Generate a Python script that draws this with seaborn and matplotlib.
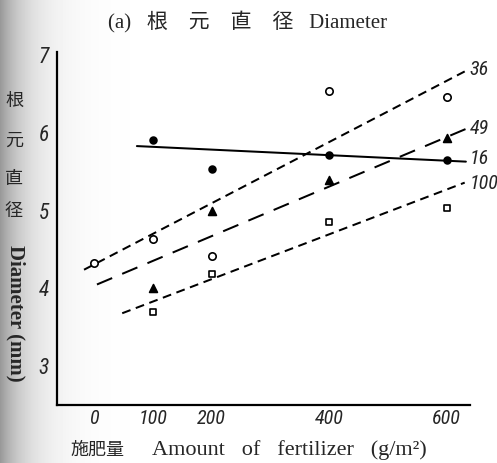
import numpy as np
import pandas as pd
import matplotlib
matplotlib.use('Agg')
import matplotlib.pyplot as plt
import seaborn as sns

# ---- data ----
x_36 = [0, 100, 200, 400, 600]
y_36 = [4.33, 4.64, 4.41, 6.54, 6.46]
x_16 = [100, 200, 400, 600]
y_16 = [5.91, 5.53, 5.72, 5.65]
x_49 = [100, 200, 400, 600]
y_49 = [4.00, 5.00, 5.40, 5.94]
x_100 = [100, 200, 400, 600]
y_100 = [3.69, 4.18, 4.85, 5.04]

# fitted regression lines (start / end)
fit_groups = ['16', '36', '49', '100']
fit_x0 = [73, -17, 5, 48]
fit_x1 = [633, 631, 636, 631]
fit_y0 = [5.83, 4.24, 4.05, 3.68]
fit_y1 = [5.63, 6.79, 6.06, 5.36]
label_y = [5.67, 6.82, 6.05, 5.35]

xticks = [0, 100, 200, 400, 600]
yticks = [3, 4, 5, 6, 7]

sns.set_theme(style='white')
serif = ['Liberation Serif', 'Noto Sans CJK JP']
num_font = ['Roboto Condensed', 'Archivo Narrow', 'DejaVu Sans']
plt.rcParams['font.family'] = serif

fig = plt.figure(figsize=(4.97, 4.63), dpi=100)
fig.patch.set_facecolor('white')

# scan shading on the left edge
bg = fig.add_axes([0, 0, 1, 1], zorder=-5)
xs = np.arange(497)
row = 1 - 0.40 * np.exp(-xs / 28.0)
img = np.tile(row, (463, 1))
bg.imshow(img, cmap='gray', vmin=0, vmax=1, aspect='auto', extent=[0, 1, 0, 1])
bg.set_axis_off()

ax = fig.add_axes([57 / 497, 1 - 405 / 463, (470 - 57) / 497, (405 - 52) / 463])
ax.set_facecolor('none')

pts = [
    (x_36, y_36, 'o', 'white', 28),
    (x_16, y_16, 'o', 'black', 24),
    (x_49, y_49, '^', 'black', 32),
    (x_100, y_100, 's', 'white', 24),
]
for xv, yv, m, fc, s in pts:
    sns.scatterplot(x=xv, y=yv, marker=m, s=s, facecolor=fc, edgecolor='black',
                    linewidth=1.2, ax=ax, zorder=3, legend=False)

lines = pd.DataFrame({
    'x': [v for a, b in zip(fit_x0, fit_x1) for v in (a, b)],
    'y': [v for a, b in zip(fit_y0, fit_y1) for v in (a, b)],
    'group': [g for g in fit_groups for _ in range(2)],
})
dash_map = {'16': '', '36': (4.4, 2.8), '49': (8.2, 5.4), '100': (4.4, 2.8)}
sns.lineplot(data=lines, x='x', y='y', style='group', dashes=dash_map,
             color='black', linewidth=1.45, legend=False, sort=False,
             estimator=None, ax=ax, zorder=2)

for g, ly in zip(fit_groups, label_y):
    ax.text(639, ly, g, fontsize=14.5, style='italic', family=num_font,
            ha='left', va='center', clip_on=False)

ax.set_xlim(-63, 640)
ax.set_ylim(2.5, 7.04)
ax.set_xticks(xticks)
ax.set_yticks(yticks)
ax.set_xticklabels([str(v) for v in xticks], fontsize=14.5, style='italic',
                   family=num_font)
ax.set_yticklabels([str(v) for v in yticks], fontsize=15.5, style='italic',
                   family=num_font)
ax.tick_params(axis='both', direction='in', length=9, width=1.1, color='black')
ax.tick_params(axis='y', pad=6)
ax.tick_params(axis='x', pad=3)
for side in ['top', 'right']:
    ax.spines[side].set_visible(False)
for side in ['left', 'bottom']:
    ax.spines[side].set_color('black')
    ax.spines[side].set_linewidth(1.6)
ax.set_xlabel('')
ax.set_ylabel('')

# title
fig.text(248 / 497, 1 - 22 / 463, '(a)   根    元    直    径   Diameter', fontsize=15,
         family=serif, ha='center', va='center')

# y label: stacked characters + rotated English
for ch, yc in zip(['根', '元', '直', '径'], [101, 141, 179, 211]):
    fig.text(14 / 497, 1 - yc / 463, ch, fontsize=13, family=['Noto Sans CJK JP'],
             ha='center', va='center')
fig.text(16 / 497, 1 - 313 / 463, 'Diameter (mm)', fontsize=15, fontweight='bold',
         family=serif, rotation=-90, ha='center', va='center')

# x label
fig.text(70 / 497, 1 - 450 / 463, '施肥量', fontsize=13, family=['Noto Sans CJK JP'],
         ha='left', va='center')
fig.text(152 / 497, 1 - 450 / 463, 'Amount   of   fertilizer   (g/m²)', fontsize=16,
         family=serif, ha='left', va='center')

fig.savefig('out.png', dpi=100)
